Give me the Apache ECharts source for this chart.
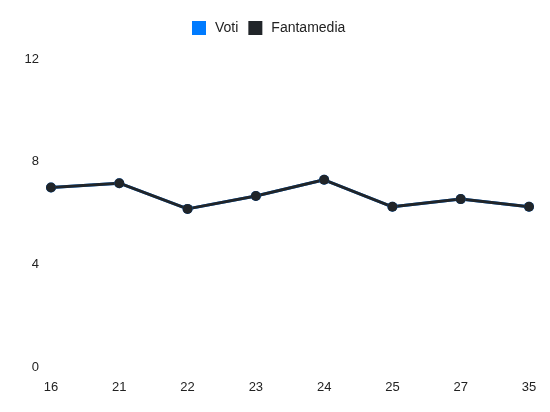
<!DOCTYPE html>
<html>
<head>
<meta charset="utf-8">
<script src="https://cdn.jsdelivr.net/npm/echarts@6/dist/echarts.min.js"></script>
<style>
  html, body { margin: 0; padding: 0; background: #fff; }
  #chart { width: 550px; height: 412px; }
</style>
</head>
<body>
<div id="chart"></div>
<script>
// giornate
const giornate = ['16', '21', '22', '23', '24', '25', '27', '35']
const voti = [7, 7.17, 6.17, 6.67, 7.3, 6.25, 6.55, 6.25]
const fantamedia = [7, 7.17, 6.17, 6.67, 7.3, 6.25, 6.55, 6.25]

const myChart = echarts.init(document.getElementById('chart'))
const option = {
  animation: false,
  legend: {
    top: 16,
    left: 187,
    itemWidth: 14,
    itemHeight: 14,
    itemGap: 10,
    textStyle: { color: '#222', fontSize: 14, padding: [0, 0, 0, 4] },
    data: [
      { name: 'Voti', icon: 'rect' },
      { name: 'Fantamedia', icon: 'rect' }
    ]
  },
  grid: { left: 51, right: 21, top: 59, bottom: 44.5 },
  xAxis: {
    type: 'category',
    data: giornate,
    boundaryGap: false,
    axisLine: { show: false },
    axisTick: { show: false },
    splitLine: { show: false },
    axisLabel: { color: '#222', fontSize: 13, margin: 13 }
  },
  yAxis: {
    type: 'value',
    min: 0,
    max: 12,
    interval: 4,
    axisLine: { show: false },
    axisTick: { show: false },
    splitLine: { show: false },
    axisLabel: { color: '#222', fontSize: 13, margin: 12 }
  },
  series: [
    {
      name: 'Voti',
      type: 'line',
      data: voti,
      color: '#007bff',
      symbol: 'circle',
      symbolSize: 10,
      lineStyle: { width: 3 }
    },
    {
      name: 'Fantamedia',
      type: 'line',
      data: fantamedia,
      color: '#212529',
      symbol: 'circle',
      symbolSize: 10,
      lineStyle: { width: 3 }
    }
  ]
}
option && myChart.setOption(option)
</script>
</body>
</html>
